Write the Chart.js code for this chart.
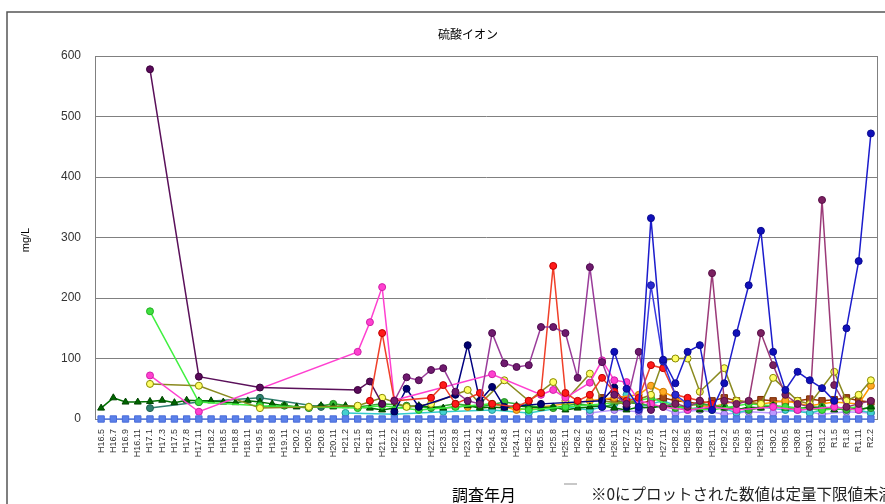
<!DOCTYPE html>
<html>
<head>
<meta charset="utf-8">
<script src="https://cdn.jsdelivr.net/npm/chart.js@4/dist/chart.umd.min.js"></script>
<style>
  html, body { margin: 0; padding: 0; background: #fff; }
  canvas { display: block; }
</style>
</head>
<body>
<canvas id="sulfate" width="885" height="504"></canvas>
<script>
const _ = null;

// survey dates (x axis)
const surveyDates = [
  'H16.5','H16.7','H16.9','H16.11','H17.1','H17.3','H17.5','H17.8',
  'H17.11','H18.2','H18.5','H18.8','H18.11','H19.5','H19.8','H19.11',
  'H20.2','H20.5','H20.8','H20.11','H21.2','H21.5','H21.8','H21.11',
  'H22.2','H22.5','H22.8','H22.11','H23.5','H23.8','H23.11','H24.2',
  'H24.5','H24.8','H24.11','H25.2','H25.5','H25.8','H25.11','H26.2',
  'H26.5','H26.8','H26.11','H27.2','H27.5','H27.8','H27.11','H28.2',
  'H28.5','H28.8','H28.11','H29.2','H29.5','H29.8','H29.11','H30.2',
  'H30.5','H30.8','H30.11','H31.2','R1.5','R1.8','R1.11','R2.2'
];

const yTicks = [0, 100, 200, 300, 400, 500, 600];

// mg/L per well
const wellZero = [
  0,0,0,0,0,0,0,0, 0,0,0,0,0,0,0,0, 0,0,0,0,0,0,0,0, 0,0,0,0,0,0,0,0,
  0,0,0,0,0,0,0,0, 0,0,0,0,0,0,0,0, 0,0,0,0,0,0,0,0, 0,0,0,0,0,0,0,0
];
const wellDarkGreen = [
  18,35,28,28,29,31,27,31, 30,30,28,27,30,28,25,22,
  20,20,22,20,22,20,18,15, 18,20,22,20,18,20,22,18,
  20,18,22,20,18,20,15,18, 20,22,18,15,20,18,22,20,
  18,15,20,18,15,20,18,22, 18,15,20,18,15,20,15,20
];
const wellDarkPurple = [
  _,_,_,_,578,_,_,_, 70,_,_,_,_,52,_,_,
  _,_,_,_,_,48,62,25, _,_,_,_,_,_,_,_,
  _,_,_,_,_,_,_,_, _,_,_,_,_,_,_,_,
  _,_,_,_,_,_,_,_, _,_,_,_,_,_,_,_
];
const wellPurple = [
  _,_,_,_,_,_,_,_, _,_,_,_,_,_,_,_,
  _,_,_,_,_,_,_,_, 30,69,64,81,84,45,30,25,
  142,92,86,89,152,152,142,68, 251,94,40,25,111,15,_,_,
  _,_,_,_,_,_,_,_, _,_,_,_,_,_,_,_
];
const wellPlum = [
  _,_,_,_,_,_,_,_, _,_,_,_,_,_,_,_,
  _,_,_,_,_,_,_,_, _,_,_,_,_,_,_,_,
  _,_,_,_,_,_,_,_, _,_,_,_,_,_,20,25,
  20,30,241,30,25,30,142,89, 40,25,20,362,56,20,25,30
];
const wellRed = [
  _,_,_,_,_,_,_,_, _,_,_,_,_,_,_,_,
  _,_,_,_,_,_,30,142, 30,_,_,35,56,25,_,43,
  25,_,20,30,43,253,43,30, 40,68,45,30,35,89,84,40,
  35,30,25,_,_,_,_,_, _,_,_,_,_,_,_,_
];
const wellPink = [
  _,_,_,_,72,_,_,_, 12,_,_,_,_,_,_,_,
  _,_,_,_,_,111,160,218, 31,_,_,_,_,_,_,_,
  74,_,_,_,40,48,35,_, 60,97,64,61,30,25,20,_,
  15,_,20,_,15,_,_,20, _,15,_,_,20,_,15,_
];
const wellLightGreen = [
  _,_,_,_,178,_,_,_, 28,_,_,_,_,22,_,_,
  _,20,_,_,_,18,_,22, _,_,15,_,_,20,_,_,
  25,_,_,15,_,_,20,_, _,25,_,_,30,35,_,20,
  _,_,15,_,_,25,_,_, 20,_,_,15,_,_,20,_
];
const wellYellow = [
  _,_,_,_,58,_,_,_, 55,_,_,_,_,18,_,_,
  _,20,_,_,_,22,_,35, _,20,_,25,_,_,48,25,
  _,64,_,30,_,61,30,_, 75,30,_,25,_,40,97,100,
  100,45,_,84,30,_,25,68, _,30,25,_,78,30,40,64
];
const wellNavy = [
  _,_,_,_,_,_,_,_, _,_,_,_,_,_,_,_,
  _,_,_,_,_,_,_,_, 12,50,20,_,_,40,122,30,
  53,20,_,_,25,_,_,_, _,30,52,20,_,_,_,_,
  _,_,_,_,_,_,_,_, _,_,_,_,_,_,_,_
];
const wellBlue = [
  _,_,_,_,_,_,_,_, _,_,_,_,_,_,_,_,
  _,_,_,_,_,_,_,_, _,_,_,_,_,_,_,_,
  _,_,_,_,_,_,_,_, _,20,111,50,20,332,98,59,
  111,122,15,59,142,221,311,111, 48,78,64,51,30,150,261,472
];
const wellBlue2 = [
  _,_,_,_,_,_,_,_, _,_,_,_,_,_,_,_,
  _,_,_,_,_,_,_,_, _,_,_,_,_,_,_,_,
  _,_,_,_,_,_,_,_, _,_,_,_,15,221,95,40,
  25,_,_,_,_,_,_,_, _,_,_,_,_,_,_,_
];
const wellBrown = [
  _,_,_,_,_,_,_,_, _,_,_,_,_,_,_,_,
  _,_,_,_,_,_,_,_, _,_,_,_,_,_,_,_,
  _,_,_,_,_,_,_,_, _,35,30,28,25,30,35,30,
  28,25,30,35,30,28,32,30, 28,30,33,30,32,35,30,28
];
const wellOrange = [
  _,_,_,_,_,_,_,_, _,_,_,_,_,_,_,_,
  _,_,_,_,_,_,_,_, _,_,_,_,_,_,20,_,
  25,_,15,_,20,_,25,_, 30,_,35,_,40,55,45,_,
  25,_,20,_,30,_,25,_, 30,_,22,_,28,_,25,55
];
const wellTeal = [
  _,_,_,_,_,_,_,_, _,_,_,_,_,_,_,_,
  _,_,_,_,10,_,_,_, 8,_,_,_,12,_,_,_,
  15,_,_,10,_,_,20,_, 15,_,25,40,20,_,30,_,
  15,_,25,_,10,_,20,_, 15,_,10,_,20,_,15,10
];
const wellLavender = [
  _,_,_,_,_,_,_,_, _,_,_,_,_,_,_,_,
  _,_,_,_,_,_,_,_, _,_,_,_,_,_,_,_,
  _,_,_,_,_,_,_,_, 10,_,15,_,12,25,_,10,
  _,15,_,8,_,12,_,10, _,15,_,8,_,12,_,10
];
const wellGreen = [
  _,_,_,_,_,_,_,_, _,_,_,_,_,20,_,22,
  _,18,_,25,_,20,_,25, _,22,_,18,_,25,_,20,
  _,28,_,22,_,18,_,25, _,20,_,28,_,22,_,18,
  _,25,_,20,_,15,_,22, _,18,_,20,_,15,_,18
];
const wellSeaGreen = [
  _,_,_,_,18,_,_,_, 28,_,_,_,_,35,_,_,
  _,_,20,_,_,_,_,_, _,_,_,_,_,_,_,_,
  _,_,_,_,_,_,_,_, _,_,_,_,_,_,_,_,
  _,_,_,_,_,_,_,_, _,_,_,_,_,_,_,_
];

const line = (data, lineColor, pointColor, pointEdge, style) => ({
  data: data,
  borderColor: lineColor,
  backgroundColor: pointColor,
  pointBackgroundColor: pointColor,
  pointBorderColor: pointEdge,
  pointBorderWidth: 1,
  pointStyle: style || 'circle',
  pointRadius: style === 'rect' ? 4.5 : (style === 'triangle' ? 4 : 3.5),
  borderWidth: 1.5,
  tension: 0,
  spanGaps: true,
  clip: false
});

// first dataset is drawn on top
const datasets = [
  line(wellZero, '#5a80ea', '#5a80ea', '#4a6cd8', 'rect'),
  line(wellBlue, '#1c1ccc', '#1010b8', '#0a0a90'),
  line(wellBlue2, '#3a3ae0', '#2a2ad0', '#1a1aa0'),
  line(wellPlum, '#9b3a78', '#7a2060', '#5a1048'),
  line(wellPurple, '#9a3c9a', '#6e1a6e', '#4e0a4e'),
  line(wellRed, '#f0402a', '#ff1a1a', '#c00000'),
  line(wellDarkPurple, '#5a105a', '#5a0a5a', '#3a003a'),
  line(wellPink, '#ff40d0', '#ff40d0', '#d020a8'),
  line(wellNavy, '#000080', '#000070', '#000050'),
  line(wellYellow, '#8a8a20', '#ffff66', '#888800'),
  line(wellLightGreen, '#40f040', '#40e040', '#20b020'),
  line(wellDarkGreen, '#007000', '#006600', '#004400', 'triangle'),
  line(wellSeaGreen, '#2f7f6f', '#2f7f6f', '#1f5f4f'),
  line(wellGreen, '#33aa33', '#33bb33', '#228822'),
  line(wellOrange, '#ff9900', '#ffaa22', '#cc7700'),
  line(wellBrown, '#993300', '#a0481a', '#7a2800', 'rect'),
  line(wellTeal, '#33cccc', '#44d0d0', '#229999'),
  line(wellLavender, '#bb99ff', '#bb99ff', '#8866cc')
];

const frame = {
  id: 'frame',
  beforeDraw(chart) {
    const c = chart.ctx;
    c.save();
    c.fillStyle = '#fff';
    c.fillRect(0, 0, chart.width, chart.height);
    c.restore();
  },
  beforeDatasetsDraw(chart) {
    const a = chart.chartArea, c = chart.ctx;
    c.save();
    c.strokeStyle = '#808080';
    c.lineWidth = 1;
    c.strokeRect(a.left + 0.5, a.top + 0.5, a.right - a.left, a.bottom - a.top);
    c.restore();
  },
  afterDraw(chart) {
    const c = chart.ctx;
    c.save();
    c.strokeStyle = '#555';
    c.lineWidth = 1.5;
    c.strokeRect(7, 12, 950, 600);

    c.fillStyle = '#000';
    c.textAlign = 'center';
    c.textBaseline = 'middle';
    c.font = '12px "Noto Sans CJK JP"';
    c.fillText('硫酸イオン', 468, 34);

    c.font = '16px "Noto Sans CJK JP"';
    c.fillText('調査年月', 484, 495);

    c.textAlign = 'left';
    c.fillStyle = '#222';
    c.font = '15.5px "Noto Sans CJK JP"';
    c.fillText('※0にプロットされた数値は定量下限値未満', 591, 494);

    c.strokeStyle = '#c8c8c8';
    c.lineWidth = 2;
    c.beginPath();
    c.moveTo(564, 484);
    c.lineTo(577, 484);
    c.stroke();

    c.fillStyle = '#000';
    c.translate(26, 240);
    c.rotate(-Math.PI / 2);
    c.textAlign = 'center';
    c.font = '11px "Liberation Sans"';
    c.fillText('mg/L', 0, 0);
    c.restore();
  }
};

new Chart(document.getElementById('sulfate').getContext('2d'), {
  type: 'line',
  data: { labels: surveyDates, datasets: datasets },
  plugins: [frame],
  options: {
    responsive: false,
    animation: false,
    layout: { padding: { left: 0, right: 8, top: 56, bottom: 0 } },
    plugins: {
      legend: { display: false },
      title: { display: false },
      tooltip: { enabled: false }
    },
    scales: {
      x: {
        offset: true,
        grid: { display: false },
        border: { color: '#808080' },
        ticks: {
          autoSkip: false,
          minRotation: 90,
          maxRotation: 90,
          padding: 2,
          color: '#333',
          font: { size: 9, family: 'Liberation Sans' }
        },
        afterFit: s => { s.height = 85; }
      },
      y: {
        min: yTicks[0],
        max: yTicks[yTicks.length - 1],
        afterBuildTicks: s => { s.ticks = yTicks.map(v => ({ value: v })); },
        grid: { color: '#808080', lineWidth: 1, drawTicks: false },
        border: { color: '#808080' },
        ticks: {
          padding: 14,
          color: '#333',
          font: { size: 12, family: 'Liberation Sans' }
        },
        afterFit: s => { s.width = 95; }
      }
    }
  }
});
</script>
</body>
</html>
